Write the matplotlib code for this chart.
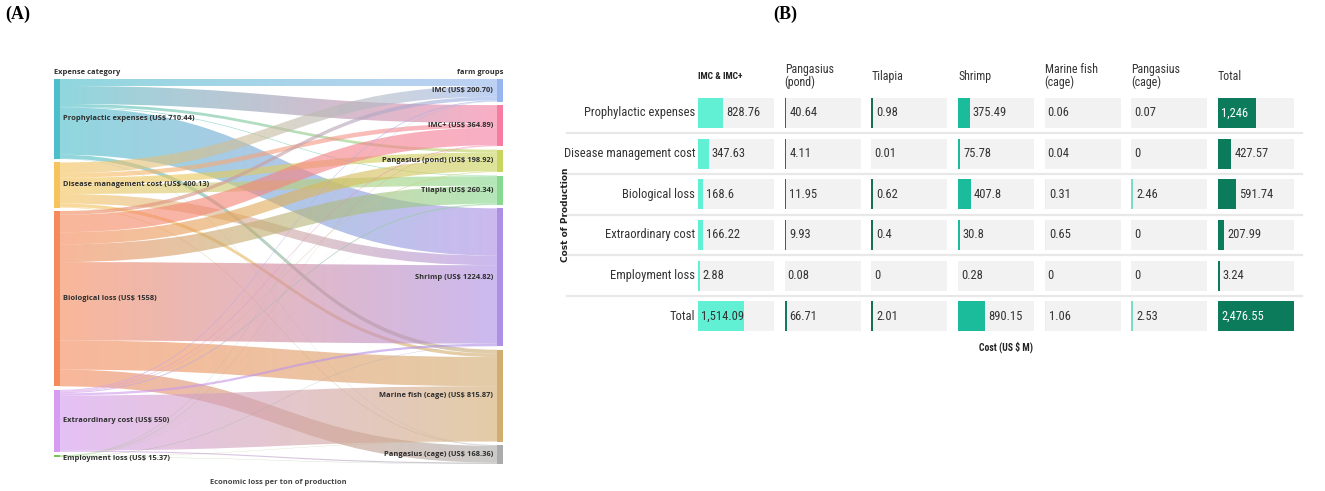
import matplotlib
matplotlib.use("Agg")
import matplotlib.pyplot as plt
import numpy as np
from matplotlib.path import Path
from matplotlib.patches import PathPatch
from matplotlib import font_manager
from matplotlib.colors import to_rgba

# ---------------- DATA ----------------
sources = ["Prophylactic expenses", "Disease management cost", "Biological loss",
           "Extraordinary cost", "Employment loss"]
source_totals = [710.44, 400.13, 1558, 550, 15.37]
targets = ["IMC", "IMC+", "Pangasius (pond)", "Tilapia", "Shrimp",
           "Marine fish (cage)", "Pangasius (cage)"]
target_totals = [200.70, 364.89, 198.92, 260.34, 1224.82, 815.87, 168.36]
# estimated flows (rows: sources, cols: targets)
flow_prophylactic = [62, 160, 25, 6, 420, 35, 2.44]
flow_disease = [95, 40, 60, 85, 85, 30, 5.13]
flow_biological = [32.7, 155.89, 106.92, 158.34, 696.82, 258.87, 148.42]
flow_extraordinary = [8, 6, 6, 10, 20, 490, 10]
flow_employment = [3, 3, 1, 1, 3, 2, 2.37]

src_colors = ["#4dbfca", "#f6c45e", "#f58b5c", "#d59cef", "#7cc25a"]
tgt_colors = ["#97b5ee", "#f67da2", "#c9d55e", "#86d98f", "#ad8fe6", "#d2ad72", "#ababab"]

row_labels = ["Prophylactic expenses", "Disease management cost", "Biological loss",
              "Extraordinary cost", "Employment loss", "Total"]
col_labels = ["IMC & IMC+", "Pangasius\n(pond)", "Tilapia", "Shrimp",
              "Marine fish\n(cage)", "Pangasius\n(cage)", "Total"]
imc = [828.76, 347.63, 168.6, 166.22, 2.88, 1514.09]
pangasius_pond = [40.64, 4.11, 11.95, 9.93, 0.08, 66.71]
tilapia = [0.98, 0.01, 0.62, 0.4, 0, 2.01]
shrimp = [375.49, 75.78, 407.8, 30.8, 0.28, 890.15]
marine_fish = [0.06, 0.04, 0.31, 0.65, 0, 1.06]
pangasius_cage = [0.07, 0, 2.46, 0, 0, 2.53]
total = [1246, 427.57, 591.74, 207.99, 3.24, 2476.55]
col_colors = ["#62f0d4", "#127b5e", "#17704f", "#1bbc9b", "#e6efec", "#7adcc7", "#0b7b5b"]

# ---------------- FIGURE ----------------
W, H = 1325, 491
fig = plt.figure(figsize=(W / 100, H / 100), dpi=100)

def fig_axes(l, t, r, b):
    return fig.add_axes([l / W, 1 - b / H, (r - l) / W, (b - t) / H])

fonts = font_manager.fontManager.ttflist
avail = set(f.name for f in fonts)
def has_bold(n):
    return any(f.name == n and (f.weight in ("bold", "heavy", "black", "semibold", "demibold") or
                                (isinstance(f.weight, int) and f.weight >= 600)) for f in fonts)
def pick(*names, bold=False):
    for n in names:
        if n in avail and (not bold or has_bold(n)):
            return n
    return "DejaVu Sans"
narrow = pick("Liberation Sans Narrow", "Roboto Condensed", "DejaVu Sans")
narrow_b = pick("Liberation Sans Narrow", "Roboto Condensed", "DejaVu Sans", bold=True)
sankey_font = pick("Open Sans", "Lato", "Noto Sans", "DejaVu Sans", bold=True)
serif = pick("Liberation Serif", "DejaVu Serif")

fig.text(18 / W, 1 - 14 / H, "(A)", fontfamily=serif, fontweight="bold", fontsize=13,
         ha="center", va="center")
fig.text(785 / W, 1 - 14 / H, "(B)", fontfamily=serif, fontweight="bold", fontsize=13,
         ha="center", va="center")

# ---------------- PANEL A : SANKEY ----------------
A_L, A_T, A_R, A_B = 54, 79, 503, 464
axA = fig_axes(A_L, A_T, A_R, A_B)
axA.axis("off")
flows = np.array([flow_prophylactic, flow_disease, flow_biological,
                  flow_extraordinary, flow_employment], dtype=float)
pad_px = 3.5
ky = (A_B - A_T - (len(targets) - 1) * pad_px) / sum(target_totals)
pad = pad_px / ky
extent = sum(target_totals) + (len(targets) - 1) * pad
nw = 6 / (A_R - A_L)

def stack(vals):
    tops, y = [], 0.0
    for v in vals:
        tops.append(y)
        y += v + pad
    return tops

s_top = stack(source_totals)
t_top = stack(target_totals)

for i, v in enumerate(source_totals):
    axA.bar(0, v, bottom=s_top[i], width=nw, align="edge", color=src_colors[i], zorder=5)
for j, v in enumerate(target_totals):
    axA.bar(1 - nw, v, bottom=t_top[j], width=nw, align="edge", color=tgt_colors[j], zorder=5)

s_off = list(s_top)
links = []
for i in range(len(sources)):
    for j in range(len(targets)):
        v = flows[i, j]
        links.append((i, j, s_off[i], v))
        s_off[i] += v
tgt_pos = {}
for j in range(len(targets)):
    y = t_top[j]
    for i in range(len(sources)):
        tgt_pos[(i, j)] = y
        y += flows[i, j]

x0, x1 = nw, 1 - nw
xm = (x0 + x1) / 2
alpha = 0.62
for (i, j, sy, v) in links:
    ty = tgt_pos[(i, j)]
    verts = [(x0, sy), (xm, sy), (xm, ty), (x1, ty),
             (x1, ty + v), (xm, ty + v), (xm, sy + v), (x0, sy + v), (x0, sy)]
    codes = [Path.MOVETO, Path.CURVE4, Path.CURVE4, Path.CURVE4,
             Path.LINETO, Path.CURVE4, Path.CURVE4, Path.CURVE4, Path.CLOSEPOLY]
    patch = PathPatch(Path(verts, codes), facecolor="none", edgecolor="none")
    axA.add_patch(patch)
    c0 = np.array(to_rgba(src_colors[i]))
    c1 = np.array(to_rgba(tgt_colors[j]))
    t = np.linspace(0, 1, 256)[:, None]
    grad = c0 * (1 - t) + c1 * t
    grad[:, 3] = alpha
    im = axA.imshow(grad[None, :, :], extent=(x0, x1, extent, 0), aspect="auto",
                    interpolation="bilinear", zorder=2)
    im.set_clip_path(patch)

axA.set_xlim(0, 1)
axA.set_ylim(extent, 0)

lab_kw = dict(fontfamily=sankey_font, fontweight="bold", fontsize=5.4, color="#2e2e2e", zorder=6)
lx = (63 - A_L) / (A_R - A_L)
for i, name in enumerate(sources):
    val = source_totals[i]
    txt = f"{name} (US$ {val:g})"
    yc = s_top[i] + val / 2 + (18 if i == 4 else 0)
    axA.text(lx, yc, txt, ha="left", va="center", **lab_kw)
rx = 1 - (A_R - 493) / (A_R - A_L)
for j, name in enumerate(targets):
    val = target_totals[j]
    txt = f"{name} (US$ {val:.2f})"
    axA.text(rx, t_top[j] + val / 2, txt, ha="right", va="center", **lab_kw)

axA.text(0, 1 + 6.5 / (A_B - A_T), "Expense category", transform=axA.transAxes,
         ha="left", va="center", **lab_kw)
axA.text(1, 1 + 6.5 / (A_B - A_T), "farm groups", transform=axA.transAxes,
         ha="right", va="center", **lab_kw)
axA.text(0.5, -19 / (A_B - A_T), "Economic loss per ton of production", transform=axA.transAxes,
         ha="center", va="center", fontfamily=sankey_font, fontweight="bold", fontsize=5.4,
         color="#444444")

# ---------------- PANEL B : TABLE OF BARS ----------------
B_L, B_R = 698, 1294
row_c0, row_pitch = 112.8, 40.7
B_T = row_c0 - row_pitch / 2
B_B = row_c0 + 5.5 * row_pitch
axB = fig_axes(B_L, B_T, B_R, B_B)
axB.axis("off")
cell = max(total)
col_pitch = cell * 86.7 / 76
xmax = 6 * col_pitch + cell
axB.set_xlim(0, xmax)
axB.set_ylim(5.5, -0.5)
px_per_unit = (B_R - B_L) / xmax
cell_h = 30 / row_pitch

columns = [imc, pangasius_pond, tilapia, shrimp, marine_fish, pangasius_cage, total]
nrow = len(row_labels)
ypos = np.arange(nrow)

for k in range(nrow - 1):
    xa = (567 - B_L) / px_per_unit
    xb = (1302 - B_L) / px_per_unit
    axB.plot([xa, xb], [k + 0.5, k + 0.5], color="#e8e8e8", lw=1.6, clip_on=False, zorder=1)

fig.canvas.draw()
renderer = fig.canvas.get_renderer()
val_fs = 9
for c, vals in enumerate(columns):
    left = c * col_pitch
    axB.barh(ypos, [cell] * nrow, left=left, height=cell_h, color="#f2f2f2", zorder=2)
    widths = []
    for v in vals:
        w = v
        if 0.3 < v and v * px_per_unit < 1.6:
            w = 1.6 / px_per_unit
        if v <= 0.3:
            w = 0
        widths.append(w)
    axB.barh(ypos, widths, left=left, height=cell_h, color=col_colors[c], zorder=3)
    for r, v in enumerate(vals):
        s = f"{v:,}"
        t = axB.text(0, r, s, fontfamily=narrow, fontsize=val_fs, va="center", ha="left",
                     color="#333333", zorder=4)
        tw = t.get_window_extent(renderer).width / px_per_unit
        pad_u = 3 / px_per_unit
        wpx = widths[r]
        if tw + 0.8 * pad_u < wpx:
            t.set_x(left + pad_u)
            if c == len(columns) - 1:
                t.set_color("white")
        else:
            t.set_x(left + wpx + pad_u)
    hy = -0.5 - (B_T - 76) / row_pitch
    if c == 0:
        axB.text(left, hy, col_labels[c], fontfamily=narrow_b, fontweight="bold", fontsize=6.8,
                 va="center", ha="left", color="#222222")
    else:
        axB.text(left, hy, col_labels[c], fontfamily=narrow, fontsize=8.6,
                 va="center", ha="left", color="#333333", linespacing=1.05)

for r, lab in enumerate(row_labels):
    axB.annotate(lab, xy=(0, r), xycoords=("axes fraction", "data"),
                 xytext=(-3 * 0.72, 0), textcoords="offset points",
                 ha="right", va="center", fontfamily=narrow, fontsize=val_fs, color="#333333")

fig.text(566 / W, 1 - 215 / H, "Cost of Production", rotation=90, ha="center", va="center",
         fontfamily="DejaVu Sans", fontweight="bold", fontsize=6.5, color="#222222")
fig.text(1006 / W, 1 - 347 / H, "Cost (US $ M)", ha="center", va="center",
         fontfamily=narrow_b, fontweight="bold", fontsize=7, color="#222222")

fig.savefig("out.png", dpi=100, facecolor="white")
